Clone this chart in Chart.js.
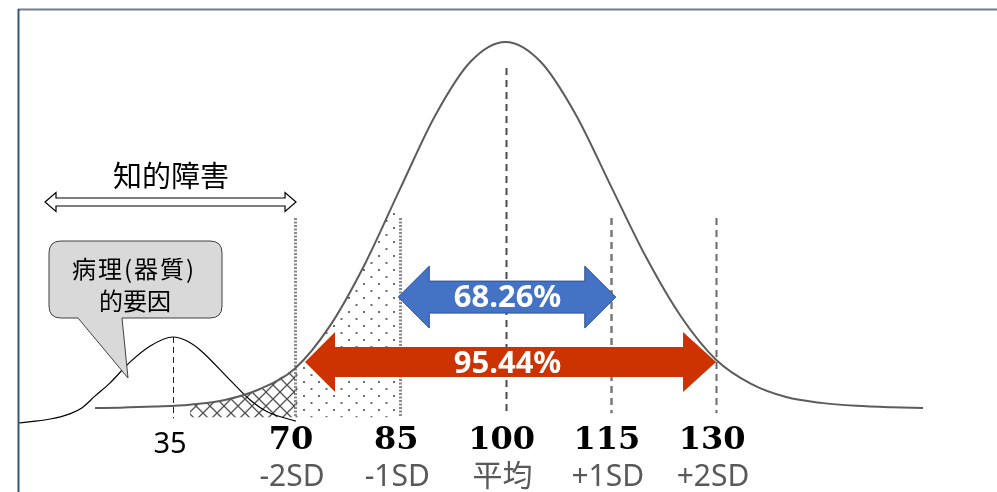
<!DOCTYPE html>
<html>
<head>
<meta charset="utf-8">
<script src="https://cdn.jsdelivr.net/npm/chart.js@4.4.1/dist/chart.umd.min.js"></script>
<style>
  html, body { margin: 0; padding: 0; background: #ffffff; }
  #wrap { width: 997px; height: 492px; }
</style>
</head>
<body>
<div id="wrap"><canvas id="c" width="997" height="492"></canvas></div>
<script>
// ---- data ----
// Main IQ distribution (mean 100, SD 15), height in % of peak
const mainX = [41.5, 45, 50, 55, 60, 65, 70, 75, 80, 85, 90, 95, 100, 105, 110, 115, 120, 125, 130, 135, 140, 145, 150, 155, 159.5];
const mainY = [0, 0.1, 0.4, 0.9, 2.2, 5.2, 10.8, 22.5, 39.5, 60, 80, 94.6, 100, 94.6, 80.2, 60.7, 41.3, 25, 13.2, 6.6, 3.0, 1.4, 0.6, 0.2, 0];
// Pathological (organic) factor distribution, centred on IQ 35
const pathoX = [12.9, 17.5, 20.3, 22.0, 23.9, 26.0, 28.9, 31.7, 35, 37.0, 38.9, 43.1, 46.0, 48.5, 52.5];
const pathoY = [-4.1, -3.0, -1.6, 0, 3.3, 6.8, 12.6, 16.9, 19.4, 18.3, 15.8, 7.7, 2.2, -1.1, -3.6];
// Tick labels
const sdValues = [70, 85, 100, 115, 130];
const sdNumbers = ['70', '85', '100', '115', '130'];
const sdNames = ['-2SD', '-1SD', '平均', '+1SD', '+2SD'];
const pathoTickValue = 35;
const pathoTickLabel = '35';
// Percent bands
const band1 = { from: 85, to: 115, label: '68.26%' };
const band2 = { from: 70, to: 130, label: '95.44%' };
const idLabel = '知的障害';
const calloutLines = ['病理(器質)', '的要因'];

// ---- build points ----
const mainPts = mainX.map((x, i) => ({ x, y: mainY[i] }));
const pathoPts = pathoX.map((x, i) => ({ x, y: pathoY[i] }));
const hatchPts = mainPts.filter(p => p.x >= 55 && p.x <= 70);
const dotPts = mainPts.filter(p => p.x >= 70 && p.x <= 85);

// ---- patterns ----
function makeHatch() {
  const c = document.createElement('canvas');
  c.width = 14; c.height = 14;
  const g = c.getContext('2d');
  g.strokeStyle = '#505050'; g.lineWidth = 1.3;
  g.beginPath();
  g.moveTo(0, 0); g.lineTo(14, 14);
  g.moveTo(14, 0); g.lineTo(0, 14);
  g.stroke();
  return g.createPattern(c, 'repeat');
}
function makeDots() {
  const c = document.createElement('canvas');
  c.width = 15; c.height = 14;
  const g = c.getContext('2d');
  g.fillStyle = '#6e6e6e';
  g.fillRect(3, 3, 2, 2);
  g.fillRect(10.5, 10, 2, 2);
  return g.createPattern(c, 'repeat');
}
const hatchPattern = makeHatch();
const dotPattern = makeDots();

function doubleArrow(ctx, xl, xr, yc, shaftH, headH, headLl, headLr, fill, stroke, lw) {
  ctx.beginPath();
  ctx.moveTo(xl, yc);
  ctx.lineTo(xl + headLl, yc - headH);
  ctx.lineTo(xl + headLl, yc - shaftH);
  ctx.lineTo(xr - headLr, yc - shaftH);
  ctx.lineTo(xr - headLr, yc - headH);
  ctx.lineTo(xr, yc);
  ctx.lineTo(xr - headLr, yc + headH);
  ctx.lineTo(xr - headLr, yc + shaftH);
  ctx.lineTo(xl + headLl, yc + shaftH);
  ctx.lineTo(xl + headLl, yc + headH);
  ctx.closePath();
  ctx.fillStyle = fill;
  ctx.fill();
  if (stroke) { ctx.strokeStyle = stroke; ctx.lineWidth = lw; ctx.stroke(); }
}

const annot = {
  id: 'annot',
  beforeDatasetsDraw(chart) {
    const ctx = chart.ctx;
    const xs = chart.scales.x, ys = chart.scales.y;
    ctx.save();
    // vertical guide lines
    const lines = [
      { v: 70, top: 51.9, bot: -2.2, color: '#8a8a8a', w: 3, dash: [2, 1.5] },
      { v: 85, top: 51.9, bot: -2.2, color: '#8a8a8a', w: 3, dash: [2, 1.5] },
      { v: 100, top: 92.9, bot: -1.4, color: '#4a4a4a', w: 2, dash: [7, 5] },
      { v: 115, top: 51.9, bot: -1.4, color: '#7a7a7a', w: 2.5, dash: [7, 5] },
      { v: 130, top: 51.9, bot: -1.4, color: '#6a6a6a', w: 2, dash: [7, 5] }
    ];
    lines.forEach(l => {
      const x = Math.round(xs.getPixelForValue(l.v)) + 0.5;
      ctx.strokeStyle = l.color; ctx.lineWidth = l.w; ctx.setLineDash(l.dash);
      ctx.beginPath();
      ctx.moveTo(x, ys.getPixelForValue(l.top));
      ctx.lineTo(x, ys.getPixelForValue(l.bot));
      ctx.stroke();
    });
    // pathological peak line
    const x2s = chart.scales.x2;
    const px35 = Math.round(x2s.getPixelForValue(pathoTickValue)) + 0.5;
    ctx.strokeStyle = '#222'; ctx.lineWidth = 1; ctx.setLineDash([6, 4]);
    ctx.beginPath();
    ctx.moveTo(px35, ys.getPixelForValue(19.4));
    ctx.lineTo(px35, ys.getPixelForValue(-2.8));
    ctx.stroke();
    ctx.setLineDash([]);
    ctx.restore();
  },
  afterDatasetsDraw(chart) {
    const ctx = chart.ctx;
    const xs = chart.scales.x, ys = chart.scales.y, x2s = chart.scales.x2;
    const area = chart.chartArea;
    ctx.save();
    // frame
    ctx.strokeStyle = '#6f7f8c'; ctx.lineWidth = 2;
    ctx.beginPath(); ctx.moveTo(area.left, 9.5); ctx.lineTo(chart.width, 9.5); ctx.stroke();
    ctx.strokeStyle = '#3c556b';
    ctx.beginPath(); ctx.moveTo(area.left + 0.5, 9); ctx.lineTo(area.left + 0.5, chart.height); ctx.stroke();

    // blue 68.26% arrow
    const yb = ys.getPixelForValue(30.3);
    doubleArrow(ctx, xs.getPixelForValue(band1.from) - 2, xs.getPixelForValue(band1.to) + 5, yb, 16, 31, 31, 31, '#4472C4', '#2F528F', 1);
    // red 95.44% arrow
    const yr = ys.getPixelForValue(12.6);
    doubleArrow(ctx, xs.getPixelForValue(band2.from) + 10, xs.getPixelForValue(band2.to), yr, 15, 30, 30, 33, '#CC3300', null, 0);
    ctx.fillStyle = '#ffffff';
    ctx.font = 'bold 31px "Noto Sans", "Open Sans", sans-serif';
    ctx.textAlign = 'center'; ctx.textBaseline = 'middle';
    const cx = (xs.getPixelForValue(band1.from) + xs.getPixelForValue(band1.to)) / 2 + 2;
    ctx.fillText(band1.label, cx, yb + 1);
    ctx.fillText(band2.label, cx, yr + 2);

    // 知的障害 outline arrow
    doubleArrow(ctx, area.left + 27, xs.getPixelForValue(70) + 1, 202, 4, 9.5, 11, 11, '#ffffff', '#000000', 1.2);
    ctx.fillStyle = '#000';
    ctx.font = '29px "Noto Sans CJK JP", sans-serif';
    ctx.fillText(idLabel, 171, 176);

    // callout bubble
    const L = 49, R = 222, T = 241, B = 318, r = 12;
    ctx.beginPath();
    ctx.moveTo(L + r, T);
    ctx.lineTo(R - r, T);
    ctx.quadraticCurveTo(R, T, R, T + r);
    ctx.lineTo(R, B - r);
    ctx.quadraticCurveTo(R, B, R - r, B);
    ctx.lineTo(122, B);
    ctx.lineTo(128, 378);
    ctx.lineTo(78, B);
    ctx.lineTo(L + r, B);
    ctx.quadraticCurveTo(L, B, L, B - r);
    ctx.lineTo(L, T + r);
    ctx.quadraticCurveTo(L, T, L + r, T);
    ctx.closePath();
    ctx.fillStyle = '#d9d9d9';
    ctx.fill();
    ctx.strokeStyle = '#404040'; ctx.lineWidth = 1;
    ctx.stroke();
    ctx.fillStyle = '#000';
    ctx.font = '24px "Noto Sans CJK JP", sans-serif';
    try { ctx.letterSpacing = '2px'; } catch (e) {}
    ctx.fillText(calloutLines[0], 134, 269);
    try { ctx.letterSpacing = '0px'; } catch (e) {}
    ctx.fillText(calloutLines[1], 135, 301);

    // tick labels
    sdValues.forEach((v, i) => {
      const x = xs.getPixelForValue(v) - 4;
      ctx.fillStyle = '#000';
      ctx.font = 'bold 32px "DejaVu Serif", serif';
      ctx.fillText(sdNumbers[i], x, 441);
      ctx.fillStyle = '#595959';
      ctx.font = '30px "Noto Sans", "Noto Sans CJK JP", sans-serif';
      ctx.fillText(sdNames[i], x + 1, 477);
    });
    ctx.fillStyle = '#000';
    ctx.font = '29px "Noto Sans", sans-serif';
    ctx.fillText(pathoTickLabel, x2s.getPixelForValue(pathoTickValue) - 3, 445);
    ctx.restore();
  }
};

new Chart(document.getElementById('c'), {
  type: 'line',
  data: {
    datasets: [
      { label: 'main', data: mainPts, xAxisID: 'x', yAxisID: 'y', borderColor: '#5c5c5c', borderWidth: 2,
        cubicInterpolationMode: 'monotone', fill: false, pointRadius: 0, order: 0 },
      { label: 'patho', data: pathoPts, xAxisID: 'x2', yAxisID: 'y', borderColor: '#000000', borderWidth: 1.2,
        cubicInterpolationMode: 'monotone', fill: false, pointRadius: 0, order: 0 },
      { label: 'hatch', data: hatchPts, xAxisID: 'x', yAxisID: 'y', borderWidth: 0, borderColor: 'rgba(0,0,0,0)',
        backgroundColor: hatchPattern, cubicInterpolationMode: 'monotone', fill: { value: -2.5 }, pointRadius: 0, order: 2 },
      { label: 'dots', data: dotPts, xAxisID: 'x', yAxisID: 'y', borderWidth: 0, borderColor: 'rgba(0,0,0,0)',
        backgroundColor: dotPattern, cubicInterpolationMode: 'monotone', fill: { value: -2.5 }, pointRadius: 0, order: 2 }
    ]
  },
  options: {
    responsive: false,
    animation: false,
    layout: { padding: { left: 18, right: 0, top: 10, bottom: 62 } },
    plugins: { legend: { display: false }, tooltip: { enabled: false } },
    scales: {
      x: { type: 'linear', min: 30.52, max: 170.04, display: false },
      x2: { type: 'linear', min: 12.91, max: 152.43, display: false },
      y: { type: 'linear', min: -6.01, max: 108.74, display: false }
    }
  },
  plugins: [annot]
});
</script>
</body>
</html>
